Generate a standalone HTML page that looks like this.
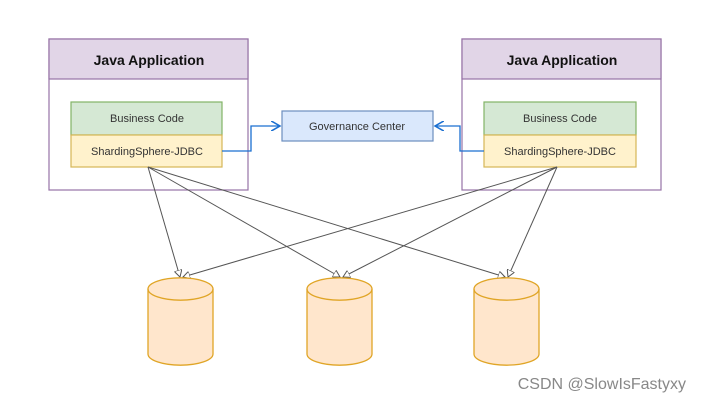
<!DOCTYPE html><html><head><style>body{margin:0;background:#fff}</style></head><body>
<svg width="701" height="401" xmlns="http://www.w3.org/2000/svg" font-family="'Comic Sans MS','Liberation Sans',sans-serif">
<defs><marker id="a" markerWidth="8" markerHeight="8" refX="7" refY="4" orient="auto"><path d="M0,0 L7,4 L0,8 Z" fill="#fff" stroke="#555" stroke-width="1"/></marker>
<marker id="b" markerWidth="8" markerHeight="8" refX="7" refY="4" orient="auto"><path d="M0,0 L7,4 L0,8" fill="none" stroke="#1a6fd1" stroke-width="1.2"/></marker></defs>
<g stroke="#9673a6" stroke-width="1.2">
<rect x="49" y="39" width="199" height="151" fill="#fff"/><rect x="49" y="39" width="199" height="40" fill="#e1d5e7"/>
<rect x="462" y="39" width="199" height="151" fill="#fff"/><rect x="462" y="39" width="199" height="40" fill="#e1d5e7"/></g>
<g font-weight="bold" font-size="14" text-anchor="middle" fill="#111"><text x="149" y="65">Java Application</text><text x="562" y="65">Java Application</text></g>
<g stroke-width="1.2"><rect x="71" y="102" width="151" height="33" fill="#d5e8d4" stroke="#82b366"/><rect x="71" y="135" width="151" height="32" fill="#fff2cc" stroke="#d6b656"/>
<rect x="484" y="102" width="152" height="33" fill="#d5e8d4" stroke="#82b366"/><rect x="484" y="135" width="152" height="32" fill="#fff2cc" stroke="#d6b656"/>
<rect x="282" y="111" width="151" height="30" fill="#dae8fc" stroke="#6c8ebf"/></g>
<g font-size="11" text-anchor="middle" fill="#333"><text x="147" y="122">Business Code</text><text x="147" y="155">ShardingSphere-JDBC</text>
<text x="560" y="122">Business Code</text><text x="560" y="155">ShardingSphere-JDBC</text><text x="357" y="130">Governance Center</text></g>
<g fill="none" stroke="#1a6fd1" stroke-width="1.3"><path d="M222,151 H251 V126 H280" marker-end="url(#b)"/><path d="M484,151 H460 V126 H435" marker-end="url(#b)"/></g>
<g stroke="#555" stroke-width="1" fill="none">
<path d="M148,167 L180,277" marker-end="url(#a)"/><path d="M148,167 L340,277" marker-end="url(#a)"/><path d="M148,167 L505,277" marker-end="url(#a)"/>
<path d="M557,167 L183,277" marker-end="url(#a)"/><path d="M557,167 L343,277" marker-end="url(#a)"/><path d="M557,167 L508,277" marker-end="url(#a)"/></g>
<g fill="#ffe6cc" stroke="#e0a526" stroke-width="1.3">
<path d="M148,289 A32,11 0 0 1 213,289 V354 A32,11 0 0 1 148,354 Z"/><path d="M148,289 A32,11 0 0 0 213,289" fill="none"/>
<path d="M307,289 A32,11 0 0 1 372,289 V354 A32,11 0 0 1 307,354 Z"/><path d="M307,289 A32,11 0 0 0 372,289" fill="none"/>
<path d="M474,289 A32,11 0 0 1 539,289 V354 A32,11 0 0 1 474,354 Z"/><path d="M474,289 A32,11 0 0 0 539,289" fill="none"/></g>
<text x="686" y="389" text-anchor="end" font-family="'Liberation Sans',sans-serif" font-size="16" fill="#888">CSDN @SlowIsFastyxy</text>
</svg></body></html>
